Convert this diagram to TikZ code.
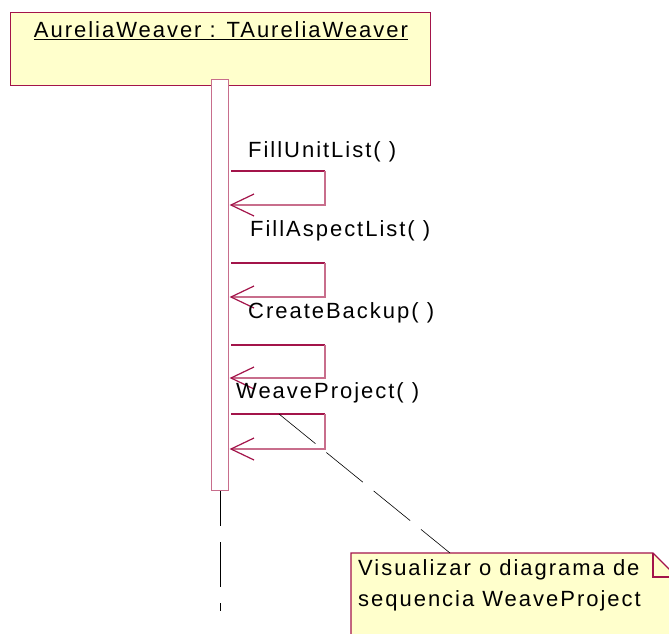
\documentclass[tikz,border=0pt]{standalone}
\usepackage{fontspec}
\setmainfont{Liberation Sans}[LetterSpace=9]
\usetikzlibrary{calc}
\definecolor{umlred}{RGB}{163,20,74}
\definecolor{umlpink}{RGB}{200,110,140}
\definecolor{umlfill}{RGB}{255,255,204}
\begin{document}
\begin{tikzpicture}[x=1pt,y=-1pt,
  lbl/.style={inner sep=0pt, anchor=west, font=\fontsize{22}{26}\selectfont},
  objbox/.style={draw=umlred, fill=umlfill, line width=1.1pt, inner sep=0pt, anchor=north west},
  actbar/.style={draw=umlpink, fill=white, line width=1.3pt, inner sep=0pt, anchor=north west,
                 minimum width=17pt, minimum height=411pt},
  msgout/.style={draw=umlred, line width=1.1pt},
  msgback/.style={draw=umlpink, line width=1.3pt},
  tip/.style={draw=umlred, line width=1.2pt},
  notelink/.style={draw=black, line width=0.6pt, dash pattern=on 47pt off 14pt},
  lifeline/.style={draw=black, line width=0.8pt, dash pattern=on 35pt off 16pt on 45pt off 16pt}
]
\useasboundingbox (0,0) rectangle (669,633);

% object head
\node[objbox, minimum width=420pt, minimum height=73pt] (obj) at (10,12) {};
\node[inner sep=0pt, font=\fontsize{22}{26}\selectfont] (title) at (221,31) {\underline{AureliaWeaver : TAureliaWeaver}};

% activation bar and lifeline
\node[actbar] (act) at (211,79) {};
\coordinate (lifeend) at (act.south |- 0,611);
\draw[lifeline] (act.south) -- (lifeend);

% self messages
\foreach \n/\yt/\yb/\lx/\ly/\txt in {
   1/171/205/248/152/{FillUnitList( )},
   2/263/297/250/231/{FillAspectList( )},
   3/345/378/248/313/{CreateBackup( )},
   4/414/449/236/393/{WeaveProject( )}} {
  \coordinate (s\n) at (231,\yt);
  \coordinate (c\n) at (325,\yt);
  \coordinate (d\n) at (325,\yb);
  \coordinate (e\n) at (231,\yb);
  \node[lbl] (m\n) at (\lx,\ly) {\txt};
  \draw[msgout] (s\n) -- (c\n);
  \draw[msgback] (c\n) -- (d\n) -- (e\n);
  \draw[tip] ($(e\n)+(23,-11)$) -- (e\n) -- ($(e\n)+(23,11)$);
}

% note
\coordinate (nA) at (351,553);
\coordinate (nB) at (653,553);
\coordinate (nC) at (677,577);
\coordinate (nD) at (677,640);
\coordinate (nE) at (351,640);
\draw[umlred, fill=umlfill, line width=1.1pt] (nA) -- (nB) -- (nC) -- (nD) -- (nE) -- cycle;
\draw[umlred, line width=1.1pt] (nB) -- (653,577) -- (nC);
\node[lbl] (n1) at (358,570) {Visualizar o diagrama de};
\node[lbl] (n2) at (358,601) {sequencia WeaveProject};

% note anchor line
\coordinate (linkstart) at (279,414);
\coordinate (linkend) at (450,553);
\draw[notelink] (linkstart) -- (linkend);
\end{tikzpicture}
\end{document}
